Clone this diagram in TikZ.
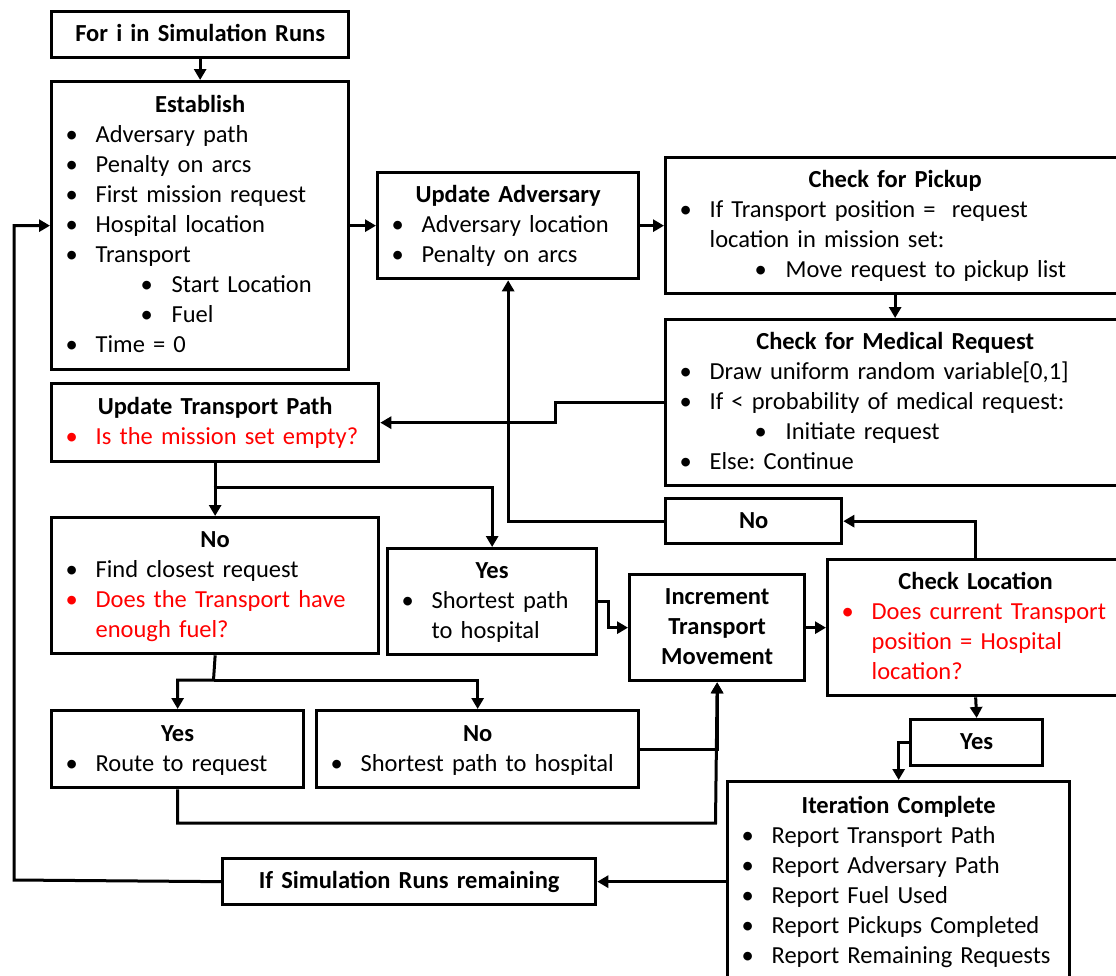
\documentclass[tikz,border=0pt]{standalone}
\usepackage{fontspec}
\setmainfont{Carlito}
\usetikzlibrary{arrows.meta}
\frenchspacing
\newcommand{\lstrut}{\rule[-8pt]{0pt}{30pt}}
\newcommand{\ttl}[1]{\noindent\makebox[\hsize]{\lstrut\bfseries #1}\par}
\newcommand{\itm}[1]{\noindent\lstrut\hspace*{20pt}\makebox[0pt]{\textbullet}\hspace*{24pt}#1\par}
\newcommand{\ritm}[1]{{\color{red}\itm{#1}}}
\newcommand{\cnt}[1]{\noindent\lstrut\hspace*{44pt}#1\par}
\newcommand{\subitm}[1]{\noindent\lstrut\hspace*{95pt}\makebox[0pt]{\textbullet}\hspace*{25pt}#1\par}
\tikzset{
    box/.style 2 args={
        draw,
        line width=3.3pt,
        inner sep=0pt,
        anchor=north west,
        minimum width=#1pt,
        minimum height=#2pt,
        text width=#1pt,
        align=left,
        font=\fontsize{24.5}{30}\selectfont},
    >={Triangle[length=11pt,width=12pt]}}

\begin{document}
\begin{tikzpicture}[x=1pt,y=-1pt,line width=3pt]
    \useasboundingbox (0,0) rectangle (1116,975);
    \clip (0,0) rectangle (1116,975);

    \node[box={297}{46}] (for) at (50,10) {\ttl{For i in Simulation Runs}};
    \node[box={297}{288}] (est) at (50,80) {%
        \ttl{Establish}
        \itm{Adversary path}
        \itm{Penalty on arcs}
        \itm{First mission request}
        \itm{Hospital location}
        \itm{Transport}
        \subitm{Start Location}
        \subitm{Fuel}
        \itm{Time = 0}};
    \node[box={261}{106}] (ua) at (376,171) {%
        \ttl{Update Adversary}
        \itm{Adversary location}
        \itm{Penalty on arcs}};
    \node[box={459}{136}] (pick) at (664,156) {%
        \ttl{Check for Pickup}
        \itm{If Transport position = \ request}
        \cnt{location in mission set:}
        \subitm{Move request to pickup list}};
    \node[box={459}{166}] (med) at (664,318) {%
        \ttl{Check for Medical Request}
        \itm{Draw uniform random variable[0,1]}
        \itm{If < probability of medical request:}
        \subitm{Initiate request}
        \itm{Else: Continue}};
    \node[box={327}{78}] (utp) at (50,382) {%
        \ttl{Update Transport Path}
        \ritm{Is the mission set empty?}};
    \node[box={176}{45}] (noc) at (664,497) {\ttl{No}};
    \node[box={327}{136}] (nof) at (50,516) {%
        \ttl{No}
        \itm{Find closest request}
        \ritm{Does the Transport have}
        \cnt{\color{red}enough fuel?}};
    \node[box={209}{106}] (ysp) at (386,547) {%
        \ttl{Yes}
        \itm{Shortest path}
        \cnt{to hospital}};
    \node[box={175}{106}] (inc) at (628,573) {%
        \ttl{Increment}
        \ttl{Transport}
        \ttl{Movement}};
    \node[box={296}{136}] (cl) at (826,558) {%
        \ttl{Check Location}
        \ritm{Does current Transport}
        \cnt{\color{red}position = Hospital}
        \cnt{\color{red}location?}};
    \node[box={252}{77}] (yrr) at (50,709) {%
        \ttl{Yes}
        \itm{Route to request}};
    \node[box={322}{77}] (nsp) at (315,709) {%
        \ttl{No}
        \itm{Shortest path to hospital}};
    \node[box={132}{46}] (ycl) at (909,718) {\ttl{Yes}};
    \node[box={342}{200}] (ic) at (726,780) {%
        \ttl{Iteration Complete}
        \itm{Report Transport Path}
        \itm{Report Adversary Path}
        \itm{Report Fuel Used}
        \itm{Report Pickups Completed}
        \itm{Report Remaining Requests}};
    \node[box={373}{46}] (ifs) at (221,857) {\ttl{If Simulation Runs remaining}};

    \coordinate (sp1) at (213.5,487);
    \coordinate (sp2) at (213.5,680);
    \coordinate (mg) at (715.5,823);
    \coordinate (lp) at (14,880);

    \draw[->] (for.south) -- (est.north);
    \draw[->] (est.east) -- (ua.west);
    \draw[->] (ua.east) -- (pick.west);
    \draw[->] (pick.south) -- (med.north);
    \draw[->] (med.west) -- ++(-109,0) |- (utp.east);
    \draw[->] (utp.south) -- (nof.north);
    \draw[->] (sp1) -| (ysp.north);
    \draw[->] (nof.south) -- (sp2) -| (yrr.north);
    \draw[->] (sp2) -| (nsp.north);
    \draw[->] (ysp.east) -- ++(10,0) |- (inc.west);
    \draw[->] (yrr.south) |- (mg) -- (inc.south);
    \draw[->] (nsp.east) -| (inc.south);
    \draw[->] (inc.east) -- (cl.west);
    \draw[->] (cl.north) |- (noc.east);
    \draw[->] (noc.west) -| (ua.south);
    \draw[->] (cl.south) -- (ycl.north);
    \draw[->] (ycl.west) -| (ic.north);
    \draw[->] (ifs.east -| ic.west) -- (ifs.east);
    \draw[->] (ifs.west) -- (lp) |- (est.west);
\end{tikzpicture}
\end{document}
